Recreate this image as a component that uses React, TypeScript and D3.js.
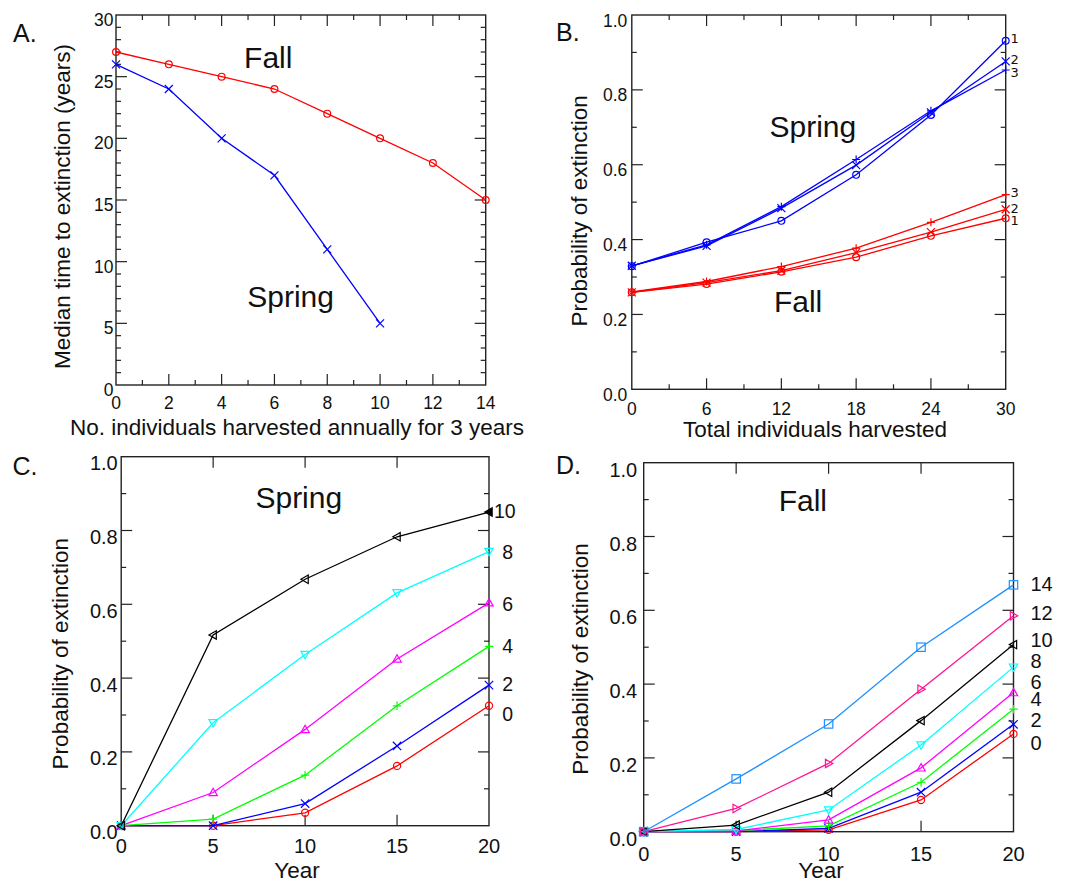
import React from 'react';
import * as d3 from 'd3';

const FONT = '"Liberation Sans", Arial, Helvetica, sans-serif';

// ---------- Panel A data ----------
const harvestA = [0, 2, 4, 6, 8, 10, 12, 14];
const fallTimeA = [27, 26, 25, 24, 22, 20, 18, 15];
const springHarvestA = [0, 2, 4, 6, 8, 10];
const springTimeA = [26, 24, 20, 17, 11, 5];

// ---------- Panel B data ----------
const totalB = [0, 6, 12, 18, 24, 30];
const springB1 = [0.329, 0.393, 0.45, 0.573, 0.733, 0.931];
const springB2 = [0.33, 0.383, 0.484, 0.599, 0.74, 0.876];
const springB3 = [0.33, 0.386, 0.488, 0.614, 0.744, 0.853];
const fallB1 = [0.259, 0.281, 0.314, 0.353, 0.41, 0.457];
const fallB2 = [0.259, 0.285, 0.317, 0.365, 0.42, 0.481];
const fallB3 = [0.26, 0.288, 0.328, 0.377, 0.446, 0.52];
const labelsB = ['1', '2', '3', '3', '2', '1'];
const labelPosB = [0.937, 0.881, 0.846, 0.527, 0.484, 0.451];

// ---------- Panel C data (Spring) ----------
const years = [0, 5, 10, 15, 20];
const springC0 = [0, 0, 0.035, 0.162, 0.325];
const springC2 = [0, 0, 0.06, 0.216, 0.381];
const springC4 = [0, 0.018, 0.137, 0.325, 0.486];
const springC6 = [0, 0.09, 0.261, 0.452, 0.604];
const springC8 = [0, 0.279, 0.464, 0.631, 0.743];
const springC10 = [0, 0.517, 0.668, 0.783, 0.85];
const labelsC = ['0', '2', '4', '6', '8', '10'];
const labelPosC = [0.303, 0.384, 0.487, 0.6, 0.742, 0.853];

// ---------- Panel D data (Fall) ----------
const fallD0 = [0, 0, 0.005, 0.086, 0.265];
const fallD2 = [0, 0, 0.009, 0.107, 0.291];
const fallD4 = [0, 0.003, 0.016, 0.134, 0.332];
const fallD6 = [0, 0.002, 0.032, 0.173, 0.377];
const fallD8 = [0, 0.006, 0.059, 0.235, 0.446];
const fallD10 = [0, 0.018, 0.107, 0.301, 0.507];
const fallD12 = [0, 0.063, 0.185, 0.386, 0.585];
const fallD14 = [0, 0.143, 0.292, 0.5, 0.669];
const labelsD = ['0', '2', '4', '6', '8', '10', '12', '14'];
const labelPosD = [0.24, 0.304, 0.359, 0.406, 0.464, 0.52, 0.594, 0.673];

type Series = { xs: number[]; ys: number[]; color: string; marker: string; fillLast?: boolean };

function Marker({ type, cx, cy, color, s, fill }: { type: string; cx: number; cy: number; color: string; s: number; fill?: boolean }) {
  const common = { stroke: color, strokeWidth: 1.2, fill: fill ? color : 'none' };
  const t = `translate(${cx},${cy})`;
  switch (type) {
    case 'circle':
      return <circle cx={cx} cy={cy} r={s * 0.85} {...common} />;
    case 'x':
      return <path transform={t} d={`M${-s},${-s}L${s},${s}M${-s},${s}L${s},${-s}`} {...common} />;
    case 'plus':
      return <path transform={t} d={`M${-s},0H${s}M0,${-s}V${s}`} {...common} />;
    case 'square':
      return <rect x={cx - s} y={cy - s} width={2 * s} height={2 * s} {...common} />;
    case 'triUp':
      return <path transform={t} d={`M0,${-s}L${s},${s * 0.75}L${-s},${s * 0.75}Z`} {...common} />;
    case 'triDown':
      return <path transform={t} d={`M0,${s}L${s},${-s * 0.75}L${-s},${-s * 0.75}Z`} {...common} />;
    case 'triLeft':
      return <path transform={t} d={`M${-s},0L${s * 0.75},${-s}L${s * 0.75},${s}Z`} {...common} />;
    case 'triRight':
      return <path transform={t} d={`M${s},0L${-s * 0.75},${-s}L${-s * 0.75},${s}Z`} {...common} />;
    default:
      return null;
  }
}

type PanelProps = {
  left: number; right: number; top: number; bottom: number;
  xDomain: [number, number]; yDomain: [number, number];
  xMajor: number[]; xMinor: number[]; yMajor: number[]; yMinor: number[];
  xTickLabels: number[]; yTickLabels: number[]; yFmt: (v: number) => string;
  tickFont: number; xLabelDy: number; yLabelDy: number; yLabelGap: number;
  series: Series[]; markerSize: number;
  xTitle: string; xTitleX: number; xTitleY: number;
  yTitle: string; yTitleX: number; yTitleY: number;
  letter: string; letterX: number; letterY: number;
  notes: { text: string; x: number; y: number }[];
  endLabels?: { texts: string[]; pos: number[]; x: (t: string) => number; font: number; family: string };
};

function Panel(p: PanelProps) {
  const x = d3.scaleLinear().domain(p.xDomain).range([p.left, p.right]);
  const y = d3.scaleLinear().domain(p.yDomain).range([p.bottom, p.top]);
  const MAJ = 11;
  const MIN = 5;
  const frame = '#222';
  const tickEls: React.ReactNode[] = [];
  p.xMajor.forEach((v, i) => {
    tickEls.push(<line key={`xb${i}`} x1={x(v)} x2={x(v)} y1={p.bottom} y2={p.bottom - MAJ} />);
    tickEls.push(<line key={`xt${i}`} x1={x(v)} x2={x(v)} y1={p.top} y2={p.top + MAJ} />);
  });
  p.xMinor.forEach((v, i) => {
    tickEls.push(<line key={`xbm${i}`} x1={x(v)} x2={x(v)} y1={p.bottom} y2={p.bottom - MIN} />);
    tickEls.push(<line key={`xtm${i}`} x1={x(v)} x2={x(v)} y1={p.top} y2={p.top + MIN} />);
  });
  p.yMajor.forEach((v, i) => {
    tickEls.push(<line key={`yl${i}`} y1={y(v)} y2={y(v)} x1={p.left} x2={p.left + MAJ} />);
    tickEls.push(<line key={`yr${i}`} y1={y(v)} y2={y(v)} x1={p.right} x2={p.right - MAJ} />);
  });
  p.yMinor.forEach((v, i) => {
    tickEls.push(<line key={`ylm${i}`} y1={y(v)} y2={y(v)} x1={p.left} x2={p.left + MIN} />);
    tickEls.push(<line key={`yrm${i}`} y1={y(v)} y2={y(v)} x1={p.right} x2={p.right - MIN} />);
  });

  return (
    <g fontFamily={FONT}>
      <g stroke={frame} strokeWidth={1.2}>{tickEls}</g>
      <rect x={p.left} y={p.top} width={p.right - p.left} height={p.bottom - p.top} fill="none" stroke={frame} strokeWidth={1.4} />
      {p.xTickLabels.map((v, i) => (
        <text key={`xl${i}`} x={x(v)} y={p.bottom + p.xLabelDy} fontSize={p.tickFont} textAnchor="middle" fill="#111">{String(v)}</text>
      ))}
      {p.yTickLabels.map((v, i) => (
        <text key={`yl${i}`} x={p.left - p.yLabelGap} y={y(v) + p.yLabelDy} fontSize={p.tickFont} textAnchor="end" fill="#111">{p.yFmt(v)}</text>
      ))}
      {p.series.map((s, i) => {
        const pts = s.xs.map((xv, j) => [x(xv), y(s.ys[j])] as [number, number]);
        return (
          <g key={`s${i}`}>
            <path d={d3.line()(pts) || ''} fill="none" stroke={s.color} strokeWidth={1.3} />
            {pts.map((pt, j) => (
              <Marker key={j} type={s.marker} cx={pt[0]} cy={pt[1]} color={s.color} s={p.markerSize}
                fill={s.fillLast && j === pts.length - 1} />
            ))}
          </g>
        );
      })}
      <text x={p.xTitleX} y={p.xTitleY} fontSize={22.5} textAnchor="middle" fill="#111">{p.xTitle}</text>
      <text transform={`translate(${p.yTitleX},${p.yTitleY}) rotate(-90)`} fontSize={22.5} textAnchor="middle" fill="#111">{p.yTitle}</text>
      <text x={p.letterX} y={p.letterY} fontSize={25} fill="#111">{p.letter}</text>
      {p.notes.map((n, i) => (
        <text key={`n${i}`} x={x(n.x)} y={y(n.y)} fontSize={30} fill="#111">{n.text}</text>
      ))}
      {p.endLabels && p.endLabels.texts.map((t, i) => (
        <text key={`e${i}`} x={p.endLabels!.x(t)} y={y(p.endLabels!.pos[i]) + 0.358 * p.endLabels!.font}
          fontSize={p.endLabels!.font} fontFamily={p.endLabels!.family} fill="#111">{t}</text>
      ))}
    </g>
  );
}

const tenths = [0, 0.2, 0.4, 0.6, 0.8, 1.0];
const oddTenths = [0.1, 0.3, 0.5, 0.7, 0.9];
const fmt1 = d3.format('.1f');

export default function App() {
  return (
    <svg width={1073} height={882} style={{ position: 'absolute', left: 0, top: 0, background: '#fff' }}>
      <rect x={0} y={0} width={1073} height={882} fill="#fff" />
      {/* Panel A */}
      <Panel
        left={116} right={485.7} top={15} bottom={385}
        xDomain={[0, 14]} yDomain={[0, 30]}
        xMajor={d3.range(2, 14, 2)} xMinor={d3.range(1, 14, 2)}
        yMajor={[5, 10, 15, 20, 25]} yMinor={d3.range(1, 30).filter((v) => v % 5 !== 0)}
        xTickLabels={d3.range(0, 15, 2)} yTickLabels={d3.range(0, 31, 5)} yFmt={(v) => String(v)}
        tickFont={17.5} xLabelDy={24.3} yLabelDy={11} yLabelGap={2.5}
        markerSize={4}
        series={[
          { xs: harvestA, ys: fallTimeA, color: '#ff0000', marker: 'circle' },
          { xs: springHarvestA, ys: springTimeA, color: '#0000ff', marker: 'x' },
        ]}
        xTitle="No. individuals harvested annually for 3 years" xTitleX={297} xTitleY={435}
        yTitle="Median time to extinction (years)" yTitleX={70} yTitleY={206.5}
        letter="A." letterX={13} letterY={41.7}
        notes={[
          { text: 'Fall', x: 4.85, y: 25.7 },
          { text: 'Spring', x: 4.97, y: 6.35 },
        ]}
      />
      {/* Panel B */}
      <Panel
        left={631.8} right={1005.7} top={15} bottom={389.3}
        xDomain={[0, 30]} yDomain={[0, 1]}
        xMajor={[6, 12, 18, 24]} xMinor={[3, 9, 15, 21, 27]}
        yMajor={[0.2, 0.4, 0.6, 0.8]} yMinor={oddTenths}
        xTickLabels={totalB} yTickLabels={tenths} yFmt={fmt1}
        tickFont={17.5} xLabelDy={25.7} yLabelDy={11.5} yLabelGap={4.5}
        markerSize={4}
        series={[
          { xs: totalB, ys: fallB1, color: '#ff0000', marker: 'circle' },
          { xs: totalB, ys: fallB2, color: '#ff0000', marker: 'x' },
          { xs: totalB, ys: fallB3, color: '#ff0000', marker: 'plus' },
          { xs: totalB, ys: springB1, color: '#0000ff', marker: 'circle' },
          { xs: totalB, ys: springB2, color: '#0000ff', marker: 'x' },
          { xs: totalB, ys: springB3, color: '#0000ff', marker: 'plus' },
        ]}
        xTitle="Total individuals harvested" xTitleX={815} xTitleY={436.7}
        yTitle="Probability of extinction" yTitleX={587} yTitleY={210.8}
        letter="B." letterX={556} letterY={40.7}
        notes={[
          { text: 'Spring', x: 11.05, y: 0.673 },
          { text: 'Fall', x: 11.4, y: 0.206 },
        ]}
        endLabels={{ texts: labelsB, pos: labelPosB, x: () => 1010.5, font: 13, family: '"DejaVu Sans", sans-serif' }}
      />
      {/* Panel C */}
      <Panel
        left={121.2} right={489} top={456.7} bottom={825.7}
        xDomain={[0, 20]} yDomain={[0, 1]}
        xMajor={[5, 10, 15]} xMinor={[]}
        yMajor={[0.2, 0.4, 0.6, 0.8]} yMinor={oddTenths}
        xTickLabels={years} yTickLabels={tenths} yFmt={fmt1}
        tickFont={20} xLabelDy={27.3} yLabelDy={13.5} yLabelGap={3.5}
        markerSize={4.2}
        series={[
          { xs: years, ys: springC0, color: '#ff0000', marker: 'circle' },
          { xs: years, ys: springC2, color: '#0000ff', marker: 'x' },
          { xs: years, ys: springC4, color: '#00ff00', marker: 'plus' },
          { xs: years, ys: springC6, color: '#ff00ff', marker: 'triUp' },
          { xs: years, ys: springC8, color: '#00ffff', marker: 'triDown' },
          { xs: years, ys: springC10, color: '#000000', marker: 'triLeft', fillLast: true },
        ]}
        xTitle="Year" xTitleX={297} xTitleY={878}
        yTitle="Probability of extinction" yTitleX={67.7} yTitleY={653.7}
        letter="C." letterX={12.5} letterY={475}
        notes={[{ text: 'Spring', x: 7.3, y: 0.862 }]}
        endLabels={{ texts: labelsC, pos: labelPosC, x: (t) => (t.length > 1 ? 494 : 502.3), font: 19.5, family: FONT }}
      />
      {/* Panel D */}
      <Panel
        left={643.7} right={1013.5} top={462.7} bottom={831.7}
        xDomain={[0, 20]} yDomain={[0, 1]}
        xMajor={[5, 10, 15]} xMinor={[]}
        yMajor={[0.2, 0.4, 0.6, 0.8]} yMinor={oddTenths}
        xTickLabels={years} yTickLabels={tenths} yFmt={fmt1}
        tickFont={20} xLabelDy={29} yLabelDy={14} yLabelGap={6.5}
        markerSize={4.2}
        series={[
          { xs: years, ys: fallD0, color: '#ff0000', marker: 'circle' },
          { xs: years, ys: fallD2, color: '#0000ff', marker: 'x' },
          { xs: years, ys: fallD4, color: '#00ff00', marker: 'plus' },
          { xs: years, ys: fallD6, color: '#ff00ff', marker: 'triUp' },
          { xs: years, ys: fallD8, color: '#00ffff', marker: 'triDown' },
          { xs: years, ys: fallD10, color: '#000000', marker: 'triLeft' },
          { xs: years, ys: fallD12, color: '#ff1493', marker: 'triRight' },
          { xs: years, ys: fallD14, color: '#1e90ff', marker: 'square' },
        ]}
        xTitle="Year" xTitleX={821} xTitleY={878}
        yTitle="Probability of extinction" yTitleX={588.3} yTitleY={659}
        letter="D." letterX={556} letterY={474}
        notes={[{ text: 'Fall', x: 7.3, y: 0.868 }]}
        endLabels={{ texts: labelsD, pos: labelPosD, x: () => 1030.5, font: 20, family: FONT }}
      />
    </svg>
  );
}
